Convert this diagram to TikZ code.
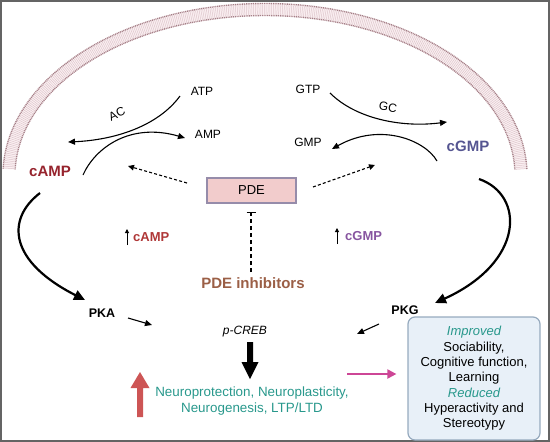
\documentclass[tikz,border=0pt]{standalone}
\usepackage{fontspec}
\setmainfont{Liberation Sans}
\usetikzlibrary{arrows.meta}
\definecolor{campred}{RGB}{150,35,45}
\definecolor{campup}{RGB}{175,55,55}
\definecolor{cgmpblue}{RGB}{85,85,145}
\definecolor{cgmpup}{RGB}{135,85,160}
\definecolor{inhbrown}{RGB}{155,95,70}
\definecolor{tealtxt}{RGB}{40,152,140}
\definecolor{bigred}{RGB}{205,85,85}
\definecolor{magarrow}{RGB}{205,70,150}
\definecolor{memfill}{RGB}{251,240,242}
\definecolor{memedge}{RGB}{165,128,136}
\definecolor{memtail}{RGB}{222,198,204}
\definecolor{pdefill}{RGB}{242,204,204}
\definecolor{pdeedge}{RGB}{150,140,170}
\definecolor{boxfill}{RGB}{232,240,248}
\definecolor{boxedge}{RGB}{150,170,190}
\definecolor{framegray}{RGB}{100,100,100}
\tikzset{
  lbl/.style={font=\fontsize{12}{14}\selectfont, inner sep=1pt},
  bigbold/.style={font=\fontsize{15}{17}\bfseries\selectfont, inner sep=1pt},
  smallbold/.style={font=\fontsize{12.5}{14}\bfseries\selectfont, inner sep=1pt},
  thinar/.style={line width=1.1pt, -{Triangle[length=7pt,width=6pt]}},
  thickar/.style={line width=2.2pt, -{Triangle[length=11pt,width=10pt]}},
  dashar/.style={line width=1.1pt, dash pattern=on 3pt off 2.2pt, -{Triangle[length=6pt,width=5.5pt]}},
  upmark/.style={line width=1pt, -{Triangle[length=4pt,width=4pt]}},
}
\begin{document}
\begin{tikzpicture}[x=1pt,y=-1pt]
\useasboundingbox (0,0) rectangle (550,442);
% frame
\draw[framegray, line width=2pt] (1,1) rectangle (549,441);
% membrane
\draw[memfill, line width=13pt] plot[domain=2:178,samples=150,smooth] ({265+256*cos(\x)},{175-165.5*sin(\x)});
\draw[memtail, line width=10pt, dash pattern=on 0.5pt off 1.3pt] plot[domain=2:178,samples=150,smooth] ({265+256*cos(\x)},{175-165.5*sin(\x)});
\draw[memedge, line width=1.4pt, dash pattern=on 1pt off 0.8pt] plot[domain=2:178,samples=150,smooth] ({265+262*cos(\x)},{175-171.5*sin(\x)});
\draw[memedge, line width=1.4pt, dash pattern=on 1pt off 0.8pt] plot[domain=2:178,samples=150,smooth] ({265+250*cos(\x)},{175-159.5*sin(\x)});

% labels
\node[lbl] (atp) at (202,91) {ATP};
\node[lbl] (amp) at (208,134) {AMP};
\node[lbl, rotate=25] (ac) at (117,114) {AC};
\node[bigbold, text=campred] (camp) at (50,171) {cAMP};
\node[lbl] (gtp) at (308,89) {GTP};
\node[lbl] (gmp) at (308,142) {GMP};
\node[lbl, rotate=-10] (gc) at (388,107) {GC};
\node[bigbold, text=cgmpblue] (cgmp) at (468,146) {cGMP};
\node[draw=pdeedge, fill=pdefill, line width=1.2pt, minimum width=89pt, minimum height=25pt, inner sep=0pt, font=\fontsize{13}{15}\selectfont] (pde) at (251.5,190.5) {PDE};
\node[bigbold, text=inhbrown] (inh) at (253,283) {PDE inhibitors};
\node[font=\fontsize{13}{15}\bfseries\selectfont, text=campup, anchor=west, inner sep=0pt] (upcamp) at (133,237) {cAMP};
\node[font=\fontsize{13}{15}\bfseries\selectfont, text=cgmpup, anchor=west, inner sep=0pt] (upcgmp) at (345,236) {cGMP};
\node[smallbold] (pka) at (102,313) {PKA};
\node[smallbold] (pkg) at (405,310) {PKG};
\node[lbl, font=\fontsize{12}{14}\itshape\selectfont] (pcreb) at (245,332) {p-CREB};
\node[font=\fontsize{13.4}{16}\selectfont, text=tealtxt, align=center, inner sep=0pt] (neuro) at (252,401) {Neuroprotection, Neuroplasticity,\\Neurogenesis, LTP/LTD};
\node[draw=boxedge, fill=boxfill, line width=1.2pt, rounded corners=7pt, minimum width=132pt, minimum height=123pt, inner sep=0pt, align=center, font=\fontsize{13}{15.3}\selectfont] (out) at (474,378.5)
  {{\color{tealtxt}\itshape Improved}\\Sociability,\\Cognitive function,\\Learning\\{\color{tealtxt}\itshape Reduced}\\Hyperactivity and\\Stereotypy};

% coordinates for connector ends
\coordinate (atpS) at (180,96);
\coordinate (campN) at (68,142);
\coordinate (campR) at (83,175);
\coordinate (ampW) at (185,138);
\coordinate (gtpE) at (330,93);
\coordinate (cgmpW) at (447,122);
\coordinate (cgmpS) at (437,161);
\coordinate (gmpE) at (332,149);
\coordinate (campB) at (40,193);
\coordinate (pkaN) at (85,300);
\coordinate (cgmpB) at (479,179);
\coordinate (pkgN) at (435,303);
\coordinate (pdeL) at (187,183);
\coordinate (campT) at (128,166);
\coordinate (pdeR) at (313,187);
\coordinate (cgmpT) at (375,165);
\coordinate (inhT) at (251,272);
\coordinate (pdeB) at (251,212);
\coordinate (pkaA) at (128,318);
\coordinate (pkaB) at (152,325);
\coordinate (pkgA) at (379,324);
\coordinate (pkgB) at (357,334);
\coordinate (magA) at (347,374);

% reactions
\draw[thinar] (atpS) .. controls (158,126) and (115,140) .. (campN);
\draw[thinar] (campR) .. controls (95,148) and (130,122) .. (ampW);
\draw[thinar] (gtpE) .. controls (355,118) and (400,128) .. (cgmpW);
\draw[thinar] (cgmpS) .. controls (425,140) and (380,122) .. (gmpE);
% big curves
\draw[thickar] (campB) .. controls (5,220) and (10,262) .. (pkaN);
\draw[thickar] (cgmpB) .. controls (525,195) and (525,262) .. (pkgN);
% PDE dashed
\draw[dashar] (pdeL) -- (campT);
\draw[dashar] (pdeR) -- (cgmpT);
\draw[line width=1.1pt, dash pattern=on 4pt off 3pt, -{Bar[width=9pt,line width=1.1pt]}] (inhT) -- (pdeB);
% up marks
\draw[upmark] (127,245) -- (127,229);
\draw[upmark] (337,244) -- (337,228);
% small arrows
\draw[thinar] (pkaA) -- (pkaB);
\draw[thinar] (pkgA) -- (pkgB);
% big black arrow
\fill[black] (247,342) -- (253,342) -- (253,362) -- (258.5,362) -- (250,379) -- (241.5,362) -- (247,362) -- cycle;
% big red arrow
\fill[bigred] (137,417) -- (143,417) -- (143,388) -- (149.5,388) -- (140,372) -- (130.5,388) -- (137,388) -- cycle;
% magenta arrow
\draw[magarrow, line width=2pt, -{Triangle[length=9pt,width=9pt]}, shorten >=11pt] (magA) -- (magA -| out.west);
\end{tikzpicture}
\end{document}
